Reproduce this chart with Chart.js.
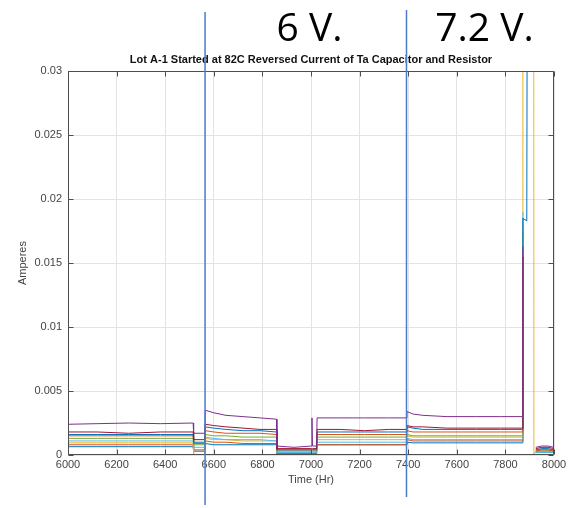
<!DOCTYPE html>
<html>
<head>
<meta charset="utf-8">
<script src="https://cdn.jsdelivr.net/npm/chart.js@4/dist/chart.umd.min.js"></script>
<style>
  html, body { margin: 0; padding: 0; background: #fff; }
  canvas { display: block; }
</style>
</head>
<body>
<canvas id="revChart" width="573" height="508"></canvas>
<script>
// sample times (hr)
const hours = [6000, 6120, 6250, 6380, 6515, 6517, 6563, 6565, 6600, 6650,
               6720, 6790, 6858, 6860, 6930, 7002, 7004, 7006, 7023, 7025,
               7120, 7220, 7320, 7393, 7395, 7420, 7460, 7560, 7680, 7780,
               7870, 7872, 7888, 7890, 7915, 7917, 7925, 7950, 7975, 8000];

// reverse current per part (A)
const purple = [0.0024, 0.00245, 0.0025, 0.00245, 0.0025, 0.0017, 0.0017, 0.0035, 0.0033, 0.0031,
                0.0030, 0.0029, 0.0028, 0.0007, 0.0006, 0.0007, 0.0029, 0.0007, 0.0007, 0.0029,
                0.0029, 0.0029, 0.0029, 0.0029, 0.0034, 0.0032, 0.0031, 0.0030, 0.0030, 0.0030,
                0.0030, 0.0163, null, null, null, null, 0.0006, 0.0007, 0.0007, 0.0006];
const darkRed = [0.0018, 0.0018, 0.0017, 0.0018, 0.0018, 0.0012, 0.0012, 0.0024, 0.0023, 0.0022,
                 0.0021, 0.0020, 0.0020, 0.0005, 0.0005, 0.0005, 0.0005, 0.0005, 0.0005, 0.0020,
                 0.0020, 0.0019, 0.0020, 0.0020, 0.0023, 0.0022, 0.0022, 0.0021, 0.0021, 0.0021,
                 0.0021, 0.0155, null, null, null, null, 0.0005, 0.0006, 0.0006, 0.0005];
const blue = [0.0016, 0.0016, 0.0016, 0.0016, 0.0016, 0.0010, 0.0010, 0.0022, 0.0021, 0.0020,
              0.0019, 0.0019, 0.0018, 0.0004, 0.0004, 0.0004, 0.0004, 0.0004, 0.0004, 0.0018,
              0.0018, 0.0018, 0.0018, 0.0018, 0.0022, 0.0021, 0.0020, 0.0020, 0.0020, 0.0020,
              0.0020, 0.0185, 0.0183, 0.04, null, null, 0.0004, 0.0005, 0.0005, 0.0004];
const orange = [0.0015, 0.0015, 0.0015, 0.0015, 0.0015, 0.0009, 0.0009, 0.0019, 0.0018, 0.0017,
                0.0017, 0.0017, 0.0016, 0.0004, 0.0004, 0.0004, 0.0004, 0.0004, 0.0004, 0.0016,
                0.0016, 0.0016, 0.0016, 0.0016, 0.0019, 0.0018, 0.0018, 0.0018, 0.0018, 0.0018,
                0.0018, 0.0140, null, null, null, null, 0.0003, 0.0004, 0.0004, 0.0003];
const green = [0.0013, 0.0013, 0.0013, 0.0013, 0.0013, 0.0008, 0.0008, 0.0016, 0.0015, 0.0015,
               0.0014, 0.0014, 0.0014, 0.0003, 0.0003, 0.0003, 0.0003, 0.0003, 0.0003, 0.0014,
               0.0014, 0.0014, 0.0014, 0.0014, 0.0016, 0.0015, 0.0015, 0.0015, 0.0015, 0.0015,
               0.0015, 0.0175, null, null, null, null, 0.0004, 0.0004, 0.0004, 0.0004];
const cyan = [0.0011, 0.0011, 0.0011, 0.0011, 0.0011, 0.0006, 0.0006, 0.0014, 0.0013, 0.0012,
              0.0012, 0.0012, 0.0011, 0.0002, 0.0002, 0.0002, 0.0002, 0.0002, 0.0002, 0.0010,
              0.0010, 0.0010, 0.0010, 0.0010, 0.0013, 0.0012, 0.0012, 0.0012, 0.0012, 0.0012,
              0.0012, 0.0190, null, null, null, null, 0.0002, 0.0002, 0.0002, 0.0002];
const yellow = [0.00095, 0.00095, 0.00095, 0.00095, 0.00095, 0.0000, 0.0000, 0.0013, 0.0012, 0.0012,
                0.0011, 0.0011, 0.0011, 0.0002, 0.0002, 0.0002, 0.0002, 0.0002, 0.0002, 0.0012,
                0.0012, 0.0012, 0.0012, 0.0012, 0.0015, 0.0014, 0.0014, 0.0014, 0.0014, 0.0014,
                0.0014, 0.05, 0.05, 0.05, 0.05, 0.0000, 0.0003, 0.0004, 0.0004, 0.0003];
const orange2 = [0.0008, 0.0008, 0.0008, 0.0008, 0.0008, 0.0004, 0.0004, 0.0011, 0.0010, 0.0010,
                 0.0009, 0.0009, 0.0009, 0.0001, 0.0001, 0.0001, 0.0001, 0.0001, 0.0001, 0.0008,
                 0.0008, 0.0008, 0.0008, 0.0008, 0.0012, 0.0011, 0.0011, 0.0011, 0.0011, 0.0011,
                 0.0011, 0.0120, null, null, null, null, 0.0003, 0.0003, 0.0003, 0.0003];
const blue2 = [0.00065, 0.00065, 0.00065, 0.00065, 0.00065, 0.0003, 0.0003, 0.0009, 0.0008, 0.0008,
               0.0008, 0.0008, 0.0008, 0.0001, 0.0001, 0.0001, 0.0001, 0.0001, 0.0001, 0.0008,
               0.0008, 0.0008, 0.0008, 0.0008, 0.0010, 0.00095, 0.00095, 0.00095, 0.00095, 0.00095,
               0.00095, 0.0185, null, null, null, null, 0.0002, 0.0002, 0.0002, 0.0002];

const seriesList = [purple, darkRed, blue, orange, green, cyan, yellow, orange2, blue2];
const seriesColors = ['#7E2F8E', '#A2142F', '#0072BD', '#D95319', '#77AC30', '#4DBEEE', '#EDB120', '#D95319', '#0072BD'];

const xTickLabels = ['6000', '6200', '6400', '6600', '6800', '7000', '7200', '7400', '7600', '7800', '8000'];
const yTickLabels = ['0', '0.005', '0.01', '0.015', '0.02', '0.025', '0.03'];

// voltage step markers
const stepHours = [6564, 7393];
const stepLabels = ['6 V.', '7.2 V.'];
const stepLabelHours = [6994, 7714];

const axisFont = { family: 'Liberation Sans, Arial, sans-serif', size: 11 };

const datasets = seriesList.map((vals, i) => ({
  data: hours.map((h, j) => ({ x: h, y: vals[j] })),
  borderColor: seriesColors[i],
  borderWidth: 1,
  pointRadius: 0,
  fill: false,
  tension: 0,
  spanGaps: false,
  // the drop back from the overload shows up faint
  segment: {
    borderColor: c => (c.p0.parsed.x === 7915 ? 'rgba(237,177,32,0.4)' : undefined)
  }
}));

// box, inward ticks and the voltage markers
const decorations = {
  id: 'decorations',
  afterDraw(chart) {
    const { ctx, chartArea: a, scales: { x, y } } = chart;
    const L = Math.round(a.left) + 0.5, R = Math.round(a.right) - 0.5;
    const T = Math.round(a.top) + 0.5, B = Math.round(a.bottom) - 0.5;
    ctx.save();
    ctx.strokeStyle = '#4d4d4d';
    ctx.lineWidth = 1;
    ctx.beginPath();
    ctx.rect(L, T, R - L, B - T);
    x.ticks.forEach(t => {
      const px = Math.round(x.getPixelForValue(t.value)) + 0.5;
      ctx.moveTo(px, B); ctx.lineTo(px, B - 5);
      ctx.moveTo(px, T); ctx.lineTo(px, T + 5);
    });
    y.ticks.forEach(t => {
      const py = Math.round(y.getPixelForValue(t.value)) + 0.5;
      ctx.moveTo(L, py); ctx.lineTo(L + 5, py);
      ctx.moveTo(R, py); ctx.lineTo(R - 5, py);
    });
    ctx.stroke();

    ctx.fillStyle = '#000';
    ctx.font = '39px "Open Sans", sans-serif';
    ctx.textAlign = 'center';
    ctx.textBaseline = 'alphabetic';
    stepLabels.forEach((s, i) => {
      ctx.fillText(s, x.getPixelForValue(stepLabelHours[i]), 41);
    });

    ctx.strokeStyle = '#4a7cc9';
    ctx.lineWidth = 1.5;
    const tops = [12, 10], bottoms = [505, 497];
    stepHours.forEach((h, i) => {
      const px = x.getPixelForValue(h);
      ctx.beginPath();
      ctx.moveTo(px, tops[i]);
      ctx.lineTo(px, bottoms[i]);
      ctx.stroke();
    });
    ctx.restore();
  }
};

new Chart(document.getElementById('revChart'), {
  type: 'line',
  data: { datasets },
  plugins: [decorations],
  options: {
    responsive: false,
    animation: false,
    devicePixelRatio: 1,
    layout: { padding: { left: 0, right: 19, top: 0, bottom: 0 } },
    plugins: {
      legend: { display: false },
      tooltip: { enabled: false },
      title: {
        display: true,
        fullSize: false,
        text: 'Lot A-1 Started at 82C Reversed Current of Ta Capacitor and Resistor',
        color: '#111',
        font: { family: 'Liberation Sans, Arial, sans-serif', size: 11, weight: 'bold' },
        padding: { top: 53, bottom: 5 }
      }
    },
    scales: {
      x: {
        type: 'linear',
        min: 6000,
        max: 8000,
        afterFit(scale) { scale.height = 53; },
        border: { display: false },
        grid: { color: '#e3e3e3', drawTicks: false },
        ticks: {
          stepSize: 200,
          padding: 3,
          maxRotation: 0,
          autoSkip: false,
          color: '#444',
          font: axisFont,
          callback: (v, i) => xTickLabels[i]
        },
        title: {
          display: true,
          text: 'Time (Hr)',
          color: '#444',
          font: axisFont,
          padding: { top: 0, bottom: 21 }
        }
      },
      y: {
        min: 0,
        max: 0.03,
        afterFit(scale) { scale.width = 68; },
        border: { display: false },
        grid: { color: '#e3e3e3', drawTicks: false },
        ticks: {
          stepSize: 0.005,
          padding: 6,
          color: '#444',
          font: axisFont,
          callback: (v, i) => yTickLabels[i]
        },
        title: {
          display: true,
          text: 'Amperes',
          color: '#444',
          font: axisFont,
          padding: { top: 16, bottom: 0 }
        }
      }
    }
  }
});
</script>
</body>
</html>
